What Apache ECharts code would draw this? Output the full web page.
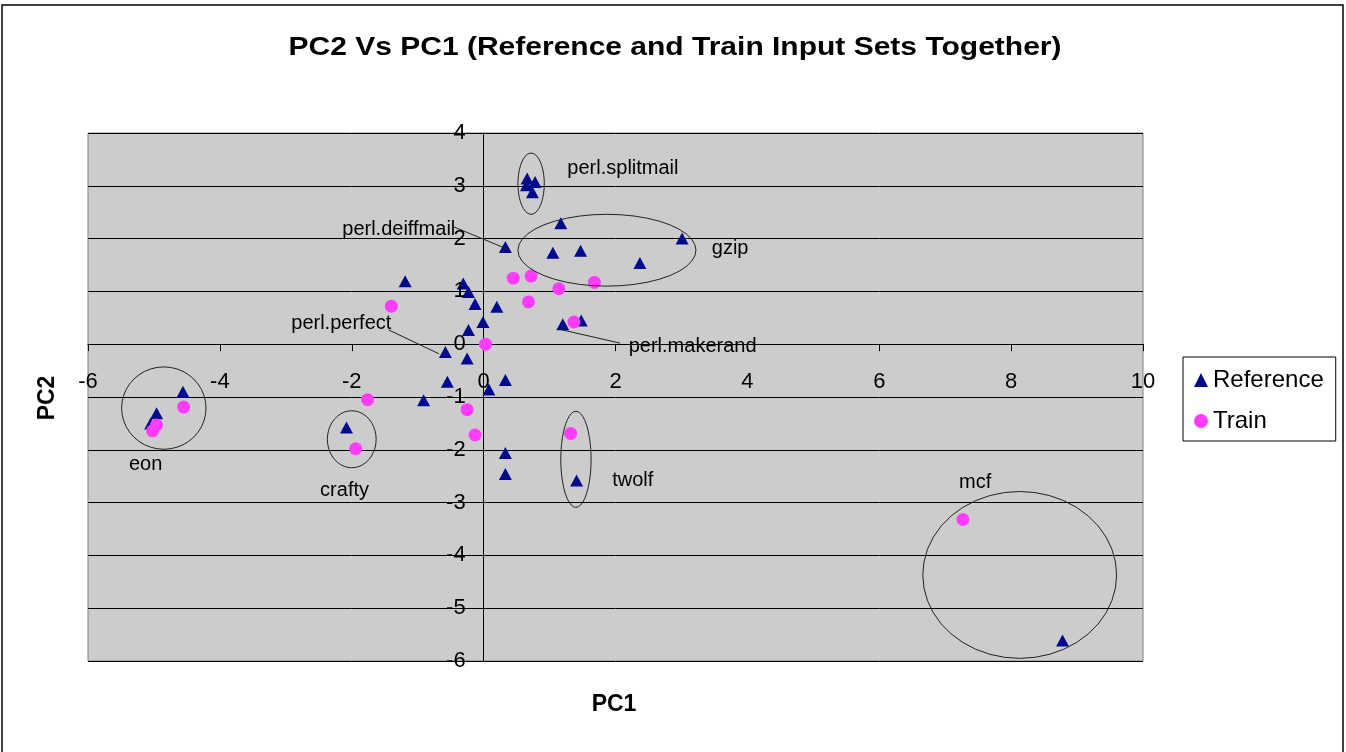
<!DOCTYPE html>
<html>
<head>
<meta charset="utf-8">
<script src="https://cdn.jsdelivr.net/npm/echarts@6/dist/echarts.min.js"></script>
<style>
html,body{margin:0;padding:0;background:#fff;}
#chart{width:1346px;height:752px;}
</style>
</head>
<body>
<div id="chart"></div>
<script>
// ---- data ----
var referencePts = [
  [0.66,3.14],[0.78,3.07],[0.65,3.01],[0.74,2.88],
  [1.17,2.29],[3.01,2.00],[0.33,1.84],[1.05,1.73],[1.47,1.77],[2.37,1.54],
  [1.20,0.38],[1.48,0.45],[0.20,0.71],[-0.01,0.42],[-0.23,0.27],[-0.13,0.76],
  [-0.23,0.99],[-0.31,1.15],[-1.19,1.19],[-0.58,-0.15],[-0.25,-0.27],
  [-4.56,-0.90],[-4.96,-1.31],[-5.05,-1.50],
  [-2.08,-1.58],
  [-0.91,-1.06],[-0.55,-0.71],[0.08,-0.86],[0.33,-0.68],[0.33,-2.06],[0.33,-2.46],
  [1.41,-2.58],[8.78,-5.61]
];
var trainPts = [
  [0.45,1.25],[0.72,1.29],[1.14,1.05],[1.68,1.17],[0.68,0.80],[1.37,0.42],
  [0.03,0.00],[-1.40,0.72],[-4.55,-1.19],[-4.96,-1.53],[-5.02,-1.64],
  [-1.94,-1.98],[-1.76,-1.05],[-0.25,-1.24],[-0.13,-1.72],[1.32,-1.69],[7.27,-3.32]
];
var seriesNames = ['Reference','Train'];
var xTicks = [-6,-4,-2,0,2,4,6,8,10];
var yTicks = [-6,-5,-4,-3,-2,-1,0,1,2,3,4];

// annotation groups (data coordinates): center x, center y, radius x, radius y
var groupEllipses = [
  [0.72,3.04,0.20,0.58],   // perl.splitmail
  [1.87,1.78,1.35,0.68],   // gzip
  [-4.85,-1.21,0.64,0.78], // eon
  [-2.00,-1.80,0.37,0.54], // crafty
  [1.40,-2.18,0.23,0.91],  // twolf
  [8.13,-4.37,1.47,1.58]   // mcf
];
var labelTexts = ['perl.splitmail','gzip','perl.deiffmail','perl.perfect','perl.makerand','twolf','eon','crafty','mcf'];
var labelX     = [1.27, 3.46, -0.43, -1.40, 2.20, 1.95, -5.38, -2.48, 7.21];
var labelY     = [3.33, 1.82, 2.18, 0.40, -0.05, -2.59, -2.27, -2.77, -2.61];
var labelAlign = ['left','left','right','right','left','left','left','left','left'];
var leaderLines = [
  [-0.45,2.22,0.40,1.78],
  [-1.44,0.27,-0.68,-0.18],
  [1.16,0.28,2.07,0.02]
];

var FONT = '"Liberation Sans", Arial, sans-serif';
var chart = echarts.init(document.getElementById('chart'));

var option = {
  animation: false,
  backgroundColor: '#ffffff',
  legend: {
    data: [
      {name: seriesNames[0], icon: 'triangle'},
      {name: seriesNames[1], icon: 'circle'}
    ],
    orient: 'vertical',
    left: 1183,
    top: 357,
    padding: [11, 12, 8, 11],
    itemWidth: 14,
    itemHeight: 14,
    itemGap: 17,
    borderColor: '#000',
    borderWidth: 1,
    backgroundColor: '#fff',
    textStyle: {fontFamily: FONT, fontSize: 24, color: '#000', lineHeight: 22}
  },
  grid: {
    left: 88, top: 133, right: 203, bottom: 91,
    show: true, backgroundColor: '#cccccc', borderColor: '#808080', borderWidth: 1
  },
  xAxis: {
    type: 'value', min: xTicks[0], max: xTicks[xTicks.length-1], interval: 2,
    axisLine: {show: true, onZero: true, lineStyle: {color: '#000', width: 1}},
    axisTick: {show: true, length: 7, lineStyle: {color: '#000'}},
    axisLabel: {show: false},
    splitLine: {show: false}
  },
  yAxis: {
    type: 'value', min: yTicks[0], max: yTicks[yTicks.length-1], interval: 1,
    axisLine: {show: true, onZero: true, lineStyle: {color: '#000', width: 1}},
    axisTick: {show: true, length: 7, lineStyle: {color: '#000'}},
    axisLabel: {show: false},
    splitLine: {show: true, lineStyle: {color: '#000', width: 1}}
  },
  graphic: [
    {type: 'rect', shape: {x: 2, y: 5, width: 1341, height: 760}, style: {fill: 'none', stroke: '#000', lineWidth: 1.5}, silent: true, z: -1},
    {type: 'text', x: 675, y: 48, scaleX: 1.2, style: {text: 'PC2 Vs PC1 (Reference and Train Input Sets Together)', font: 'bold 25px ' + FONT, fill: '#000', textAlign: 'center', textVerticalAlign: 'middle'}},
    {type: 'text', x: 614, y: 705, style: {text: 'PC1', font: 'bold 23px ' + FONT, fill: '#000', textAlign: 'center', textVerticalAlign: 'middle'}},
    {type: 'text', x: 48, y: 398, rotation: Math.PI/2, style: {text: 'PC2', font: 'bold 23px ' + FONT, fill: '#000', textAlign: 'center', textVerticalAlign: 'middle'}}
  ],
  series: [
    {
      name: seriesNames[0], type: 'scatter', data: referencePts,
      symbol: 'triangle', symbolSize: [13, 12],
      itemStyle: {color: '#000a8c', opacity: 1}, z: 3
    },
    {
      name: seriesNames[1], type: 'scatter', data: trainPts,
      symbol: 'circle', symbolSize: 13,
      itemStyle: {color: '#ff3cff', opacity: 1}, z: 4
    },
    {
      name: 'xTickLabels', type: 'custom', silent: true, z: 6,
      data: xTicks.map(function (v) { return [v, 0]; }), encode: {x: 0, y: 1},
      renderItem: function (params, api) {
        var p = api.coord([api.value(0), 0]);
        return {type: 'text', x: p[0], y: p[1] + 38, style: {
          text: String(xTicks[params.dataIndex]), font: '22px ' + FONT, fill: '#000',
          textAlign: 'center', textVerticalAlign: 'middle'}};
      }
    },
    {
      name: 'yTickLabels', type: 'custom', silent: true, z: 6,
      data: yTicks.map(function (v) { return [0, v]; }), encode: {x: 0, y: 1},
      renderItem: function (params, api) {
        var p = api.coord([0, api.value(1)]);
        return {type: 'text', x: p[0] - 18, y: p[1], style: {
          text: String(yTicks[params.dataIndex]), font: '22px ' + FONT, fill: '#000',
          textAlign: 'right', textVerticalAlign: 'middle'}};
      }
    },
    {
      name: 'groups', type: 'custom', silent: true, z: 5,
      data: groupEllipses, encode: {x: 0, y: 1},
      renderItem: function (params, api) {
        var c = api.coord([api.value(0), api.value(1)]);
        var s = api.size([api.value(2), api.value(3)]);
        var pts = [];
        var n = 40;
        for (var i = 0; i <= n; i++) {
          var a = i / n * Math.PI * 2;
          pts.push([c[0] + s[0] * Math.cos(a), c[1] + s[1] * Math.sin(a)]);
        }
        return {type: 'polyline', shape: {points: pts}, style: {stroke: '#222', lineWidth: 1, fill: null}};
      }
    },
    {
      name: 'leaders', type: 'custom', silent: true, z: 5,
      data: leaderLines, encode: {x: 0, y: 1},
      renderItem: function (params, api) {
        var p1 = api.coord([api.value(0), api.value(1)]);
        var p2 = api.coord([api.value(2), api.value(3)]);
        return {type: 'line', shape: {x1: p1[0], y1: p1[1], x2: p2[0], y2: p2[1]}, style: {stroke: '#222', lineWidth: 1}};
      }
    },
    {
      name: 'labels', type: 'custom', silent: true, z: 6,
      data: labelX.map(function (x, i) { return [x, labelY[i]]; }), encode: {x: 0, y: 1},
      renderItem: function (params, api) {
        var p = api.coord([api.value(0), api.value(1)]);
        return {type: 'text', x: p[0], y: p[1], style: {
          text: labelTexts[params.dataIndex], font: '20px ' + FONT, fill: '#000',
          textAlign: labelAlign[params.dataIndex], textVerticalAlign: 'middle'}};
      }
    }
  ]
};
chart.setOption(option);
</script>
</body>
</html>
